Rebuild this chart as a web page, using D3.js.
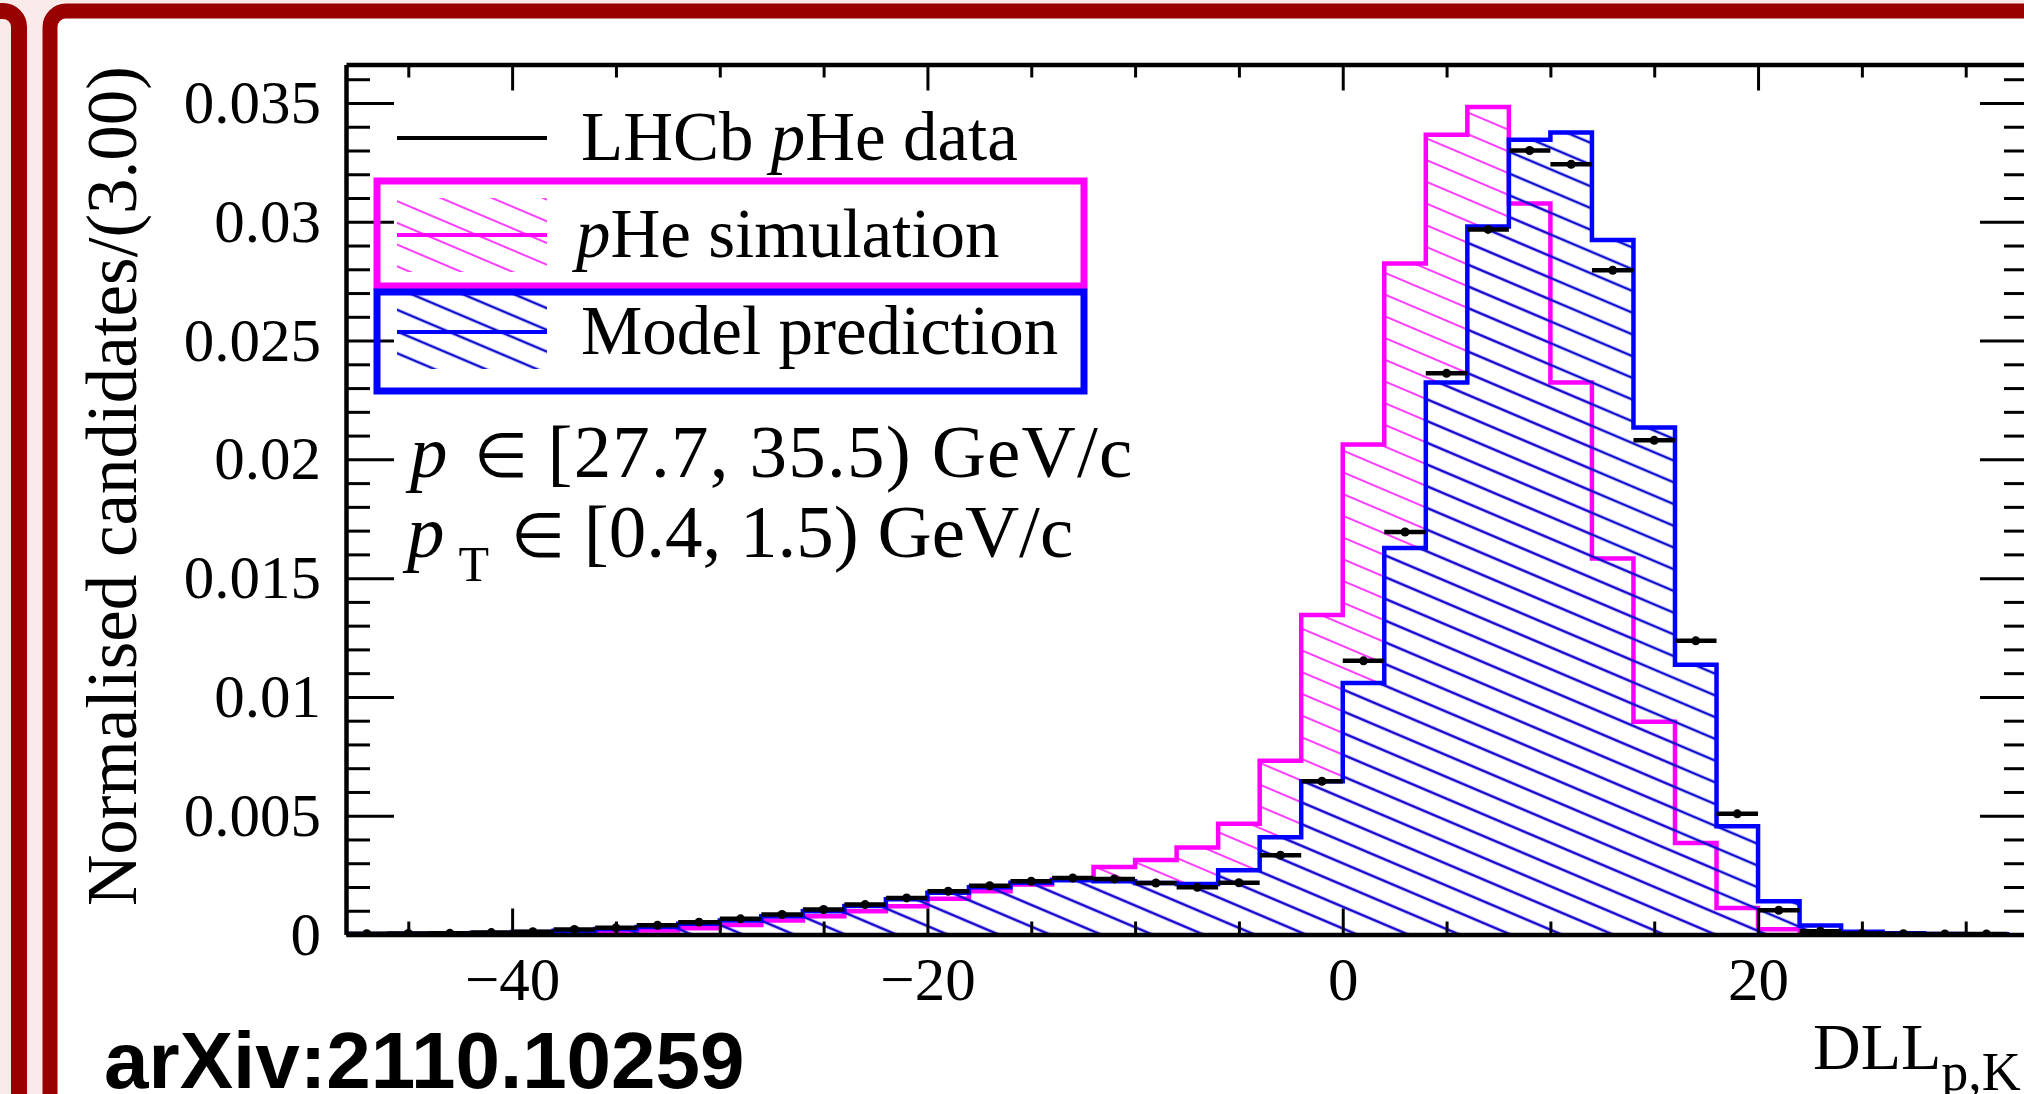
<!DOCTYPE html>
<html>
<head>
<meta charset="utf-8">
<script src="https://cdn.jsdelivr.net/npm/d3@7"></script>
<style>
  body { margin: 0; background: #fbeaea; overflow: hidden; }
  svg { display: block; }
  text { font-family: "Liberation Serif", "Times New Roman", serif; fill: #000; }
</style>
</head>
<body>
<script>
// DLL(p,K) histogram, 2-unit bins, lower edges
var binLow = [-48, -46, -44, -42, -40, -38, -36, -34, -32, -30,
  -28, -26, -24, -22, -20, -18, -16, -14, -12, -10,
  -8, -6, -4, -2, 0, 2, 4, 6, 8, 10,
  12, 14, 16, 18, 20, 22, 24, 26, 28, 30]
var binWidth = 2

// LHCb pHe data
var dataVals = [0.00003, 0.00004, 0.00005, 0.00008, 0.00012, 0.00021, 0.00028, 0.00039, 0.00052, 0.00066,
  0.00084, 0.00105, 0.00126, 0.00154, 0.00182, 0.00205, 0.00224, 0.00238, 0.00234, 0.00217,
  0.00199, 0.00218, 0.00334, 0.00645, 0.01152, 0.01694, 0.02362, 0.02968, 0.03300, 0.03242,
  0.02796, 0.02080, 0.01236, 0.00508, 0.00102, 0.00014, 0.00004, 0.00003, 0.00002, 0.00002]

// Model prediction
var modelVals = [0.00002, 0.00003, 0.00004, 0.00006, 0.00010, 0.00016, 0.00023, 0.00032, 0.00045, 0.00059,
  0.00077, 0.00098, 0.00120, 0.00148, 0.00176, 0.00199, 0.00218, 0.00228, 0.00224, 0.00217,
  0.00213, 0.00270, 0.00409, 0.00645, 0.01059, 0.01627, 0.02324, 0.02980, 0.03345, 0.03376,
  0.02923, 0.02134, 0.01135, 0.00456, 0.00140, 0.00038, 0.00012, 0.00005, 0.00002, 0.00001]

// pHe simulation
var simVals = [0.00001, 0.00001, 0.00002, 0.00003, 0.00005, 0.00007, 0.00011, 0.00017, 0.00026, 0.00040,
  0.00059, 0.00077, 0.00098, 0.00119, 0.00150, 0.00182, 0.00210, 0.00232, 0.00284, 0.00314,
  0.00366, 0.00466, 0.00731, 0.01345, 0.02063, 0.02824, 0.03366, 0.03483, 0.03077, 0.02324,
  0.01583, 0.00895, 0.00385, 0.00112, 0.00022, 0.00005, 0.00002, 0.00001, 0, 0]

var xMajor = [-40, -20, 0, 20]
var xMinor = [-45, -35, -30, -25, -15, -10, -5, 5, 10, 15, 25, 30]
var yMajor = [0, 0.005, 0.01, 0.015, 0.02, 0.025, 0.03, 0.035]
var yMinor = [0.001, 0.002, 0.003, 0.004, 0.006, 0.007, 0.008, 0.009, 0.011, 0.012, 0.013, 0.014,
  0.016, 0.017, 0.018, 0.019, 0.021, 0.022, 0.023, 0.024, 0.026, 0.027, 0.028, 0.029,
  0.031, 0.032, 0.033, 0.034, 0.036]

var W = 2024, H = 1094
var red = "#990000", magenta = "#ff00ff", blue = "#0000ff"
var pL = 346, pR = 2028, pT = 64.5, pB = 934.5

var svg = d3.select("body").append("svg").attr("width", W).attr("height", H)

// slide frames
svg.append("rect").attr("x", -300).attr("y", 11).attr("width", 319).attr("height", 1300)
  .attr("rx", 16).attr("fill", "none").attr("stroke", red).attr("stroke-width", 16)
svg.append("rect").attr("x", 50).attr("y", 11).attr("width", 2200).attr("height", 1300)
  .attr("rx", 16).attr("fill", "#fff").attr("stroke", red).attr("stroke-width", 15)

var x = d3.scaleLinear().domain([-48, 33]).range([pL, pR])
var y = d3.scaleLinear().domain([0, 0.03662]).range([pB, pT])

var defs = svg.append("defs")
function hatch(id, color, w) {
  defs.append("pattern").attr("id", id)
    .attr("patternUnits", "userSpaceOnUse")
    .attr("width", 40).attr("height", 20)
    .attr("patternTransform", "rotate(23)")
    .append("line")
    .attr("x1", 0).attr("x2", 40).attr("y1", 10).attr("y2", 10)
    .attr("stroke", color).attr("stroke-width", w)
}
hatch("hatchSim", magenta, 1.6)
hatch("hatchModel", "#1010d0", 2.4)
defs.append("clipPath").attr("id", "plotClip").append("rect")
  .attr("x", pL).attr("y", pT).attr("width", pR - pL).attr("height", pB - pT)

function stepPoints(vals) {
  var pts = [[binLow[0], 0]]
  vals.forEach(function (v, i) {
    pts.push([binLow[i], v])
    pts.push([binLow[i] + binWidth, v])
  })
  pts.push([binLow[binLow.length - 1] + binWidth, 0])
  return pts
}
var line = d3.line().x(function (d) { return x(d[0]) }).y(function (d) { return y(d[1]) })

var plot = svg.append("g").attr("clip-path", "url(#plotClip)")

function drawHist(vals, pat, color) {
  var pts = stepPoints(vals)
  plot.append("path").attr("d", line(pts) + "Z").attr("fill", "url(#" + pat + ")").attr("stroke", "none")
  plot.append("path").attr("d", line(pts)).attr("fill", "none")
    .attr("stroke", color).attr("stroke-width", 4.5).attr("stroke-linejoin", "miter")
}
drawHist(simVals, "hatchSim", magenta)
drawHist(modelVals, "hatchModel", blue)

// data points with bin-width error bars
var pts = plot.selectAll(".pt").data(dataVals).enter().append("g").attr("class", "pt")
pts.append("line")
  .attr("x1", function (d, i) { return x(binLow[i]) })
  .attr("x2", function (d, i) { return x(binLow[i] + binWidth) })
  .attr("y1", function (d) { return y(d) }).attr("y2", function (d) { return y(d) })
  .attr("stroke", "#000").attr("stroke-width", 4.5)
pts.append("circle")
  .attr("cx", function (d, i) { return x(binLow[i] + binWidth / 2) })
  .attr("cy", function (d) { return y(d) })
  .attr("r", 4.5).attr("fill", "#000")

// axes
function styleAxis(g, labels) {
  g.select(".domain").attr("stroke", "#000").attr("stroke-width", 4.5)
  g.selectAll(".tick line").attr("stroke", "#000").attr("stroke-width", 3)
  g.selectAll(".tick text").attr("font-size", labels ? 61 : 0)
    .style("font-family", "'Liberation Serif', serif").attr("fill", "#000")
}
function minor(g) {
  g.select(".domain").remove()
  g.selectAll(".tick line").attr("stroke", "#000").attr("stroke-width", 3)
}
svg.append("g").attr("transform", "translate(0," + pB + ")")
  .call(d3.axisBottom(x).tickValues(xMinor).tickSize(-13).tickFormat("")).call(minor)
svg.append("g").attr("transform", "translate(0," + pT + ")")
  .call(d3.axisTop(x).tickValues(xMinor).tickSize(-13).tickFormat("")).call(minor)
svg.append("g").attr("transform", "translate(" + pL + ",0)")
  .call(d3.axisLeft(y).tickValues(yMinor).tickSize(-24).tickFormat("")).call(minor)
svg.append("g").attr("transform", "translate(" + pR + ",0)")
  .call(d3.axisRight(y).tickValues(yMinor).tickSize(-24).tickFormat("")).call(minor)

svg.append("g").attr("transform", "translate(0," + pB + ")")
  .call(d3.axisBottom(x).tickValues(xMajor).tickSizeInner(-26).tickSizeOuter(0).tickPadding(22).tickFormat(d3.format("")))
  .call(styleAxis, true)
svg.append("g").attr("transform", "translate(0," + pT + ")")
  .call(d3.axisTop(x).tickValues(xMajor).tickSizeInner(-26).tickSizeOuter(0).tickFormat(""))
  .call(styleAxis, false)
svg.append("g").attr("transform", "translate(" + pL + ",0)")
  .call(d3.axisLeft(y).tickValues(yMajor).tickSizeInner(-48).tickSizeOuter(0).tickPadding(25).tickFormat(d3.format("~g")))
  .call(styleAxis, true)
svg.append("g").attr("transform", "translate(" + pR + ",0)")
  .call(d3.axisRight(y).tickValues(yMajor).tickSizeInner(-48).tickSizeOuter(0).tickFormat(""))
  .call(styleAxis, false)

// axis titles
svg.append("text").attr("transform", "translate(136,66) rotate(-90)")
  .attr("text-anchor", "end").attr("font-size", 71)
  .text("Normalised candidates/(3.00)")
var xt = svg.append("text").attr("x", 1813).attr("y", 1069).attr("font-size", 66)
xt.append("tspan").text("DLL")
xt.append("tspan").attr("font-size", 54).attr("dy", 21).text("p,K")

// legend
var legY = [138, 235, 332]
svg.append("line").attr("x1", 397).attr("x2", 547).attr("y1", legY[0]).attr("y2", legY[0])
  .attr("stroke", "#000").attr("stroke-width", 4)
;[["hatchSim", magenta, legY[1]], ["hatchModel", blue, legY[2]]].forEach(function (r) {
  svg.append("rect").attr("x", 397).attr("y", r[2] - 37).attr("width", 150).attr("height", 74)
    .attr("fill", "url(#" + r[0] + ")")
  svg.append("line").attr("x1", 397).attr("x2", 547).attr("y1", r[2]).attr("y2", r[2])
    .attr("stroke", r[1]).attr("stroke-width", 4)
})
svg.append("rect").attr("x", 377).attr("y", 181).attr("width", 707).attr("height", 105)
  .attr("fill", "none").attr("stroke", magenta).attr("stroke-width", 7)
svg.append("rect").attr("x", 377).attr("y", 292).attr("width", 707).attr("height", 99)
  .attr("fill", "none").attr("stroke", blue).attr("stroke-width", 7)

var t1 = svg.append("text").attr("x", 581).attr("y", legY[0] + 22).attr("font-size", 69)
t1.append("tspan").text("LHCb ")
t1.append("tspan").attr("font-style", "italic").text("p")
t1.append("tspan").text("He data")
var t2 = svg.append("text").attr("x", 576).attr("y", legY[1] + 22).attr("font-size", 69)
t2.append("tspan").attr("font-style", "italic").text("p")
t2.append("tspan").text("He simulation")
svg.append("text").attr("x", 581).attr("y", legY[2] + 22).attr("font-size", 69).text("Model prediction")

// kinematic range
var a1 = svg.append("text").attr("x", 410).attr("y", 477).attr("font-size", 75)
a1.append("tspan").attr("font-style", "italic").text("p")
a1.append("tspan").attr("dx", 26).attr("font-size", 62).text("\u2208")
a1.append("tspan").attr("letter-spacing", 1.2).text(" [27.7, 35.5) GeV/c")
var a2 = svg.append("text").attr("x", 407).attr("y", 557).attr("font-size", 75)
a2.append("tspan").attr("font-style", "italic").text("p")
a2.append("tspan").attr("font-size", 50).attr("dx", 14).attr("dy", 24).text("T")
a2.append("tspan").attr("dy", -24).attr("dx", 22).attr("font-size", 62).text("\u2208")
a2.append("tspan").text(" [0.4, 1.5) GeV/c")

// reference tag
svg.append("text").attr("x", 104).attr("y", 1088).attr("font-size", 80)
  .style("font-family", "'Liberation Sans', Arial, sans-serif").attr("font-weight", "bold")
  .text("arXiv:2110.10259")
</script>
</body>
</html>
